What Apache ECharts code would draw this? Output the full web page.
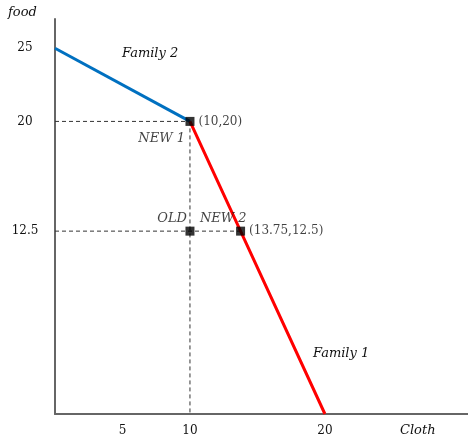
<!DOCTYPE html>
<html><head><meta charset="utf-8">
<script src="https://cdn.jsdelivr.net/npm/echarts@6/dist/echarts.min.js"></script>
<style>html,body{margin:0;padding:0;background:#fff}#c{width:468px;height:438px}</style>
</head><body><div id="c"></div>
<script>
const xTicks = [5, 10, 20];
const yTicks = [12.5, 20, 25];
const family2 = [[0, 25], [10, 20]];
const family1 = [[10, 20], [13.75, 12.5], [20, 0]];
const points = [[10, 20], [10, 12.5], [13.75, 12.5]];
const pointLabels = ['(10,20)', '', '(13.75,12.5)'];
const tagNames = ['NEW 1', 'OLD', 'NEW 2'];
const tagPoints = [[10, 20], [10, 12.5], [13.75, 12.5]];
const guideH1 = [[0, 20], [10, 20]];
const guideV = [[10, 20], [10, 0]];
const guideH2 = [[0, 12.5], [13.75, 12.5]];

const numFont = 'DejaVu Serif';
const itFont = 'DejaVu Serif';
const textColor = '#111';
const tagOffsets = [[-5, 17], [-3, -13], [6, -13]];
const tagAlign = ['right', 'right', 'right'];

const chart = echarts.init(document.getElementById('c'), null, {renderer: 'canvas'});
const guideStyle = {color: '#333', width: 1, type: [4, 3]};
function guide(d) {
  return {type: 'line', data: d, symbol: 'none', silent: true, z: 1, lineStyle: guideStyle, animation: false};
}
chart.setOption({
  animation: false,
  grid: {left: 55, right: 0, top: 19, bottom: 24, containLabel: false, outerBoundsMode: 'none'},
  xAxis: {
    type: 'value', min: 0, max: 30.6,
    axisLine: {show: true, onZero: false, lineStyle: {color: '#666', width: 2}},
    axisTick: {show: false},
    splitLine: {show: false},
    axisLabel: {customValues: xTicks, margin: 11, color: textColor, fontFamily: numFont, fontSize: 12}
  },
  yAxis: {
    type: 'value', min: 0, max: 27,
    axisLine: {show: true, onZero: false, lineStyle: {color: '#666', width: 2}},
    axisTick: {show: false},
    splitLine: {show: false},
    axisLabel: {customValues: yTicks, margin: 30, align: 'center', color: textColor, fontFamily: numFont, fontSize: 12}
  },
  graphic: [
    {type: 'text', left: 8, top: 6, style: {text: 'food', font: 'italic 13px "DejaVu Serif"', fill: textColor}},
    {type: 'text', left: 122, top: 47, style: {text: 'Family 2', font: 'italic 13px "DejaVu Serif"', fill: textColor}},
    {type: 'text', left: 313, top: 347, style: {text: 'Family 1', font: 'italic 13px "DejaVu Serif"', fill: textColor}},
    {type: 'text', left: 400, top: 424, style: {text: 'Cloth', font: 'italic 13px "DejaVu Serif"', fill: textColor}}
  ],
  series: [
    guide(guideH1), guide(guideV), guide(guideH2),
    {type: 'line', name: 'Family 2', data: family2, symbol: 'none', z: 3,
     lineStyle: {color: '#0070C0', width: 3}},
    {type: 'line', name: 'Family 1', data: family1, symbol: 'none', z: 3,
     lineStyle: {color: '#FF0000', width: 3}},
    {type: 'scatter', data: points.map((p, i) => ({value: p, label: {show: pointLabels[i] !== '', formatter: pointLabels[i]}})),
     symbol: 'rect', symbolSize: 9, z: 5,
     itemStyle: {color: '#000'},
     label: {position: 'right', distance: 4, color: textColor, textBorderWidth: 0, fontFamily: numFont, fontSize: 12}},
    {type: 'scatter', data: tagPoints.map((p, i) => ({value: p, label: {formatter: tagNames[i], offset: tagOffsets[i], align: tagAlign[i]}})),
     symbolSize: 0, z: 6, silent: true,
     label: {show: true, position: 'inside', verticalAlign: 'middle', color: textColor, textBorderWidth: 0, fontFamily: itFont, fontStyle: 'italic', fontSize: 13}}
  ]
});
</script></body></html>
